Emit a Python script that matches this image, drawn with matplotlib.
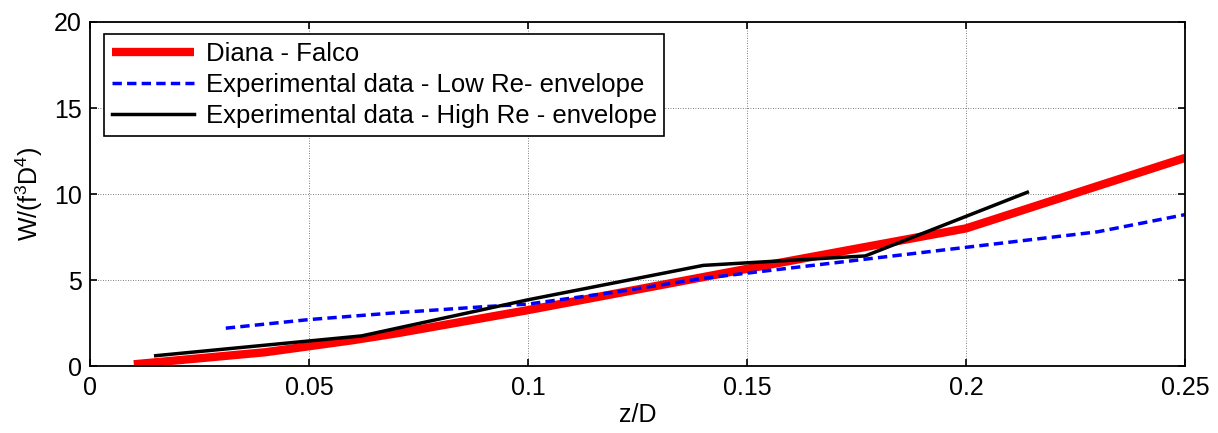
import numpy as np
import matplotlib.pyplot as plt

plt.rcParams['font.family'] = ['Liberation Sans', 'DejaVu Sans']
plt.rcParams['mathtext.fontset'] = 'custom'
plt.rcParams['mathtext.rm'] = 'Liberation Sans'
plt.rcParams['mathtext.it'] = 'Liberation Sans'

# Diana - Falco model
z_model = [0.01, 0.04, 0.06, 0.07, 0.1, 0.15, 0.2, 0.25]
w_model = [0.1, 0.8, 1.5, 1.9, 3.25, 5.65, 8.0, 12.1]

# experimental envelopes
z_low = [0.031, 0.05, 0.07, 0.09, 0.1, 0.12, 0.14, 0.16, 0.18, 0.2, 0.23, 0.25]
w_low = [2.2, 2.7, 3.1, 3.45, 3.6, 4.3, 5.1, 5.7, 6.3, 6.9, 7.8, 8.8]

z_high = [0.015, 0.062, 0.1, 0.14, 0.177, 0.214]
w_high = [0.6, 1.75, 3.85, 5.85, 6.4, 10.1]

labels = ['Diana - Falco',
          'Experimental data - Low Re- envelope',
          'Experimental data - High Re - envelope']

fig = plt.figure(figsize=(12.18, 4.33), dpi=100)
ax = fig.add_axes([0.0739, 0.1547, 0.899, 0.7945])

ax.plot(z_model, w_model, color='red', linewidth=6, label=labels[0], solid_capstyle='butt')
ax.plot(z_low, w_low, color='blue', linewidth=2.5, linestyle=(0, (2.7, 1.5)), label=labels[1])
ax.plot(z_high, w_high, color='black', linewidth=2.5, label=labels[2])

ax.set_xlim(0, 0.25)
ax.set_ylim(0, 20)
ax.set_xticks([0, 0.05, 0.1, 0.15, 0.2, 0.25])
ax.set_xticklabels(['0', '0.05', '0.1', '0.15', '0.2', '0.25'])
ax.set_yticks([0, 5, 10, 15, 20])
ax.tick_params(direction='in', top=True, right=True, labelsize=18, length=5, width=1.2)
ax.tick_params(axis='x', pad=7)
ax.tick_params(axis='y', pad=6)
ax.grid(True, color='#555555', linestyle=(0, (1, 2)), linewidth=0.6)
for s in ax.spines.values():
    s.set_linewidth(1.3)

ax.set_xlabel('z/D', fontsize=18, labelpad=2)
ax.set_ylabel(r'W/(f$^3$D$^4$)', fontsize=18, labelpad=6)

leg = ax.legend(loc='upper left', bbox_to_anchor=(0.0128, 0.965), fontsize=18.5,
                fancybox=False, framealpha=1, edgecolor='black', handlelength=3.2,
                handletextpad=0.45, borderaxespad=0, borderpad=0.3, labelspacing=0.28)
leg.get_frame().set_linewidth(1.2)

fig.savefig('out.png', dpi=100)
